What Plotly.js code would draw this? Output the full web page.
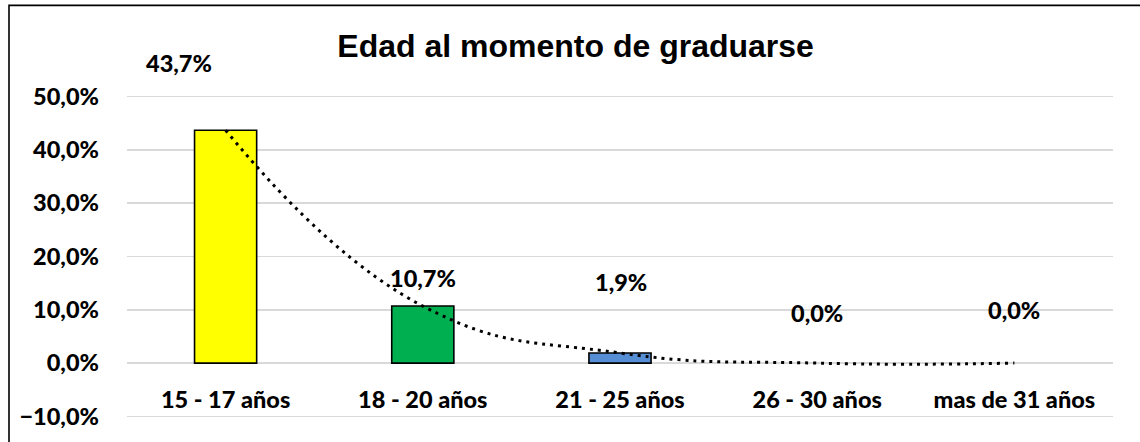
<!DOCTYPE html>
<html>
<head>
<meta charset="utf-8">
<script src="https://cdn.plot.ly/plotly-3.0.1.min.js"></script>
<style>html,body{margin:0;padding:0;background:#fff;}#chart{width:1140px;height:442px;}</style>
</head>
<body>
<div id="chart"></div>
<script>
const categories = ["15 - 17 años", "18 - 20 años", "21 - 25 años", "26 - 30 años", "mas de 31 años"];
const values = [0.437, 0.107, 0.019, 0.0, 0.0];
const barColors = ["#FFFF00", "#00B050", "#558ED5", "#558ED5", "#558ED5"];
const yTickValues = [-0.1, 0, 0.1, 0.2, 0.3, 0.4, 0.5];
const titleText = "Edad al momento de graduarse";

// label offsets (pixels) relative to each bar top
const labelShiftX = [-47, 0, 1, 0, 0];
const labelShiftY = [67, 28, 71, 50, 53];

const labelFont = {family: "Lato, 'Open Sans', sans-serif", size: 23.5, color: "#000", weight: 900};

const fmt = v => (v * 100).toFixed(1).replace(".", ",") + "%";

const bars = {
  type: "bar",
  x: categories,
  y: values,
  width: 0.315,
  marker: {color: barColors, line: {color: "#000", width: values.map(v => v > 0 ? 1.6 : 0)}},
  hoverinfo: "skip",
  showlegend: false
};

const trend = {
  type: "scatter",
  mode: "lines",
  x: categories,
  y: values,
  line: {color: "#000", width: 3, dash: "3px,5px", shape: "spline", smoothing: 1.3},
  hoverinfo: "skip",
  showlegend: false
};

const annotations = categories.map((c, i) => ({
  x: c, y: values[i], xref: "x", yref: "y",
  text: fmt(values[i]),
  showarrow: false,
  xshift: labelShiftX[i], yshift: labelShiftY[i],
  font: labelFont
}));

const pxPerUnit = 531.7; // pixels per 1.0 (100%)
const yMin = -0.103, yMax = 0.503;

const layout = {
  width: 1140, height: 442,
  margin: {l: 127, r: 27, t: 97 - 0.003 * pxPerUnit, b: 26 - 0.003 * pxPerUnit},
  paper_bgcolor: "#fff", plot_bgcolor: "#fff",
  separators: ",.",
  title: {
    text: titleText,
    font: {family: "'Liberation Sans', Arial, sans-serif", size: 32, color: "#000", weight: 700},
    x: 0.455, xref: "paper", xanchor: "center",
    y: 1 - 46 / 442, yref: "container", yanchor: "middle"
  },
  xaxis: {
    type: "category",
    anchor: "free",
    position: (0 - yMin) / (yMax - yMin),
    showgrid: false, showline: false, zeroline: false,
    ticks: "", ticklabelstandoff: 20,
    tickfont: labelFont,
    fixedrange: true
  },
  yaxis: {
    range: [yMin, yMax],
    tickvals: yTickValues,
    tickformat: ".1%",
    showgrid: true, gridcolor: "#D9D9D9", gridwidth: 1.6,
    zeroline: false, showline: false,
    ticks: "", ticklabelstandoff: 27,
    tickfont: labelFont,
    fixedrange: true
  },
  annotations: annotations,
  shapes: [{
    type: "rect", xref: "paper", yref: "paper",
    x0: (9 - 127) / 986, x1: (1160 - 127) / 986,
    y0: -0.2, y1: 1 + (97 - 0.003 * pxPerUnit - 6) / (442 - 97 - 26 + 0.006 * pxPerUnit) ,
    line: {color: "#000", width: 1.6}, fillcolor: "rgba(0,0,0,0)", layer: "above"
  }]
};

Plotly.newPlot("chart", [bars, trend], layout, {displayModeBar: false, staticPlot: true});
</script>
</body>
</html>
